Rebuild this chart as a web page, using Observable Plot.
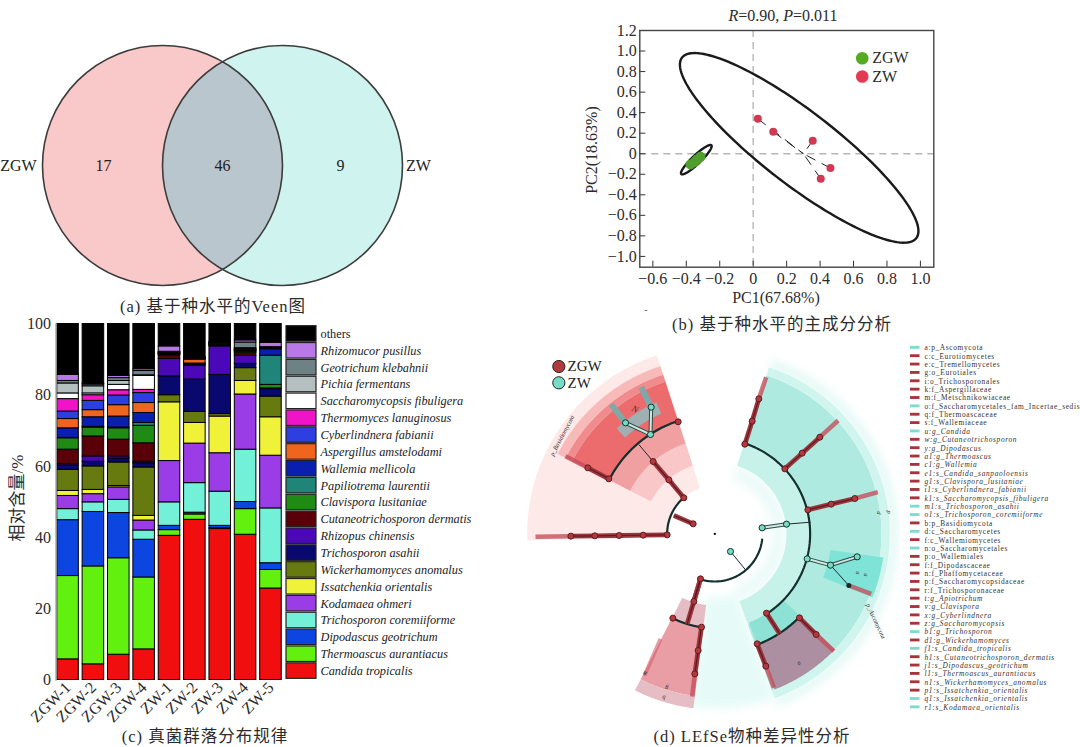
<!DOCTYPE html>
<html lang="zh">
<head>
<meta charset="utf-8">
<script src="https://cdn.jsdelivr.net/npm/d3@7"></script>
<script src="https://cdn.jsdelivr.net/npm/@observablehq/plot@0.6"></script>
<style>
html,body{margin:0;padding:0;background:#fff;}
#page{position:relative;width:1080px;height:747px;overflow:hidden;background:#fff;}
.panel{position:absolute;}
.panel svg{background:transparent!important;display:block;}
.lab{position:absolute;white-space:nowrap;color:#2b2b2b;transform-origin:center;}
</style>
</head>
<body>
<div id="page"></div>
<script>
const SERIF = "'Liberation Serif', serif";
const CJK = "'Liberation Serif','Noto Sans CJK SC',serif";

/* ---------- (a) Venn ---------- */
const vennSets = ["ZGW", "ZW"];
const vennCentresX = [162, 282];
const vennCentreY = 165;
const vennRadius = 120;
const vennCounts = [17, 46, 9];
const vennCountX = [103, 222, 340];
const vennSetLabelX = [18, 418];

/* ---------- (b) PCA ---------- */
const zwPC1 = [0.028, 0.12, 0.356, 0.462, 0.404];
const zwPC2 = [0.34, 0.214, 0.127, -0.14, -0.244];
const zgwPC1 = [-0.375, -0.35, -0.335, -0.315];
const zgwPC2 = [-0.105, -0.08, -0.055, -0.03];
const zwCentroid = [0.30, 0.0];
const pcaTicksX = [-0.6, -0.4, -0.2, 0, 0.2, 0.4, 0.6, 0.8, 1.0];
const pcaTicksY = [-1.0, -0.8, -0.6, -0.4, -0.2, 0, 0.2, 0.4, 0.6, 0.8, 1.0, 1.2];
/* ellipse: centre x, centre y, major vector, minor vector (data units) */
const ellipseZW = [0.275, 0.057, 0.70, -0.88, 0.136, 0.28];
const ellipseZGW = [-0.34, -0.058, 0.09, 0.14, 0.018, -0.03];

/* ---------- (c) community composition ---------- */
const samples = ["ZGW-1", "ZGW-2", "ZGW-3", "ZGW-4", "ZW-1", "ZW-2", "ZW-3", "ZW-4", "ZW-5"];
const candida = [5.8, 4.4, 7.1, 8.6, 40.5, 45.0, 42.4, 40.8, 25.7];
const thermoascus = [23.4, 27.5, 27.1, 20.2, 1.6, 1.5, 0.2, 7.2, 5.2];
const dipodascus = [15.7, 15.3, 12.7, 10.6, 1.2, 0.5, 0.7, 2.0, 1.9];
const coremiiforme = [3.1, 2.7, 3.7, 2.6, 6.6, 8.3, 9.6, 14.7, 15.4];
const kodamaea = [3.7, 2.3, 3.5, 2.8, 11.6, 11.1, 10.8, 15.5, 14.8];
const issatchenkia = [1.4, 1.2, 0.4, 1.3, 16.5, 5.8, 10.3, 3.8, 10.8];
const wickerhamomyces = [5.9, 6.6, 6.6, 13.6, 2.0, 3.1, 0.7, 3.6, 5.8];
const asahii = [1.2, 1.3, 1.1, 1.2, 5.3, 9.1, 11.0, 1.2, 2.1];
const rhizopus = [0.4, 1.5, 0.6, 0.4, 4.9, 3.9, 8.0, 2.3, 0];
const cutaneo = [4.1, 5.6, 4.7, 5.2, 1.0, 0.3, 0.2, 0.7, 0.2];
const clavispora = [3.2, 2.5, 3.2, 4.9, 0.2, 0.1, 0.1, 0.4, 1.0];
const papiliotrema = [0.1, 0.2, 0.2, 0.8, 0.1, 0.1, 0.1, 0.1, 8.2];
const wallemia = [2.7, 2.7, 3.1, 2.8, 0.1, 0.1, 0.1, 0.2, 1.8];
const aspergillus = [2.6, 2.0, 3.2, 2.8, 0.1, 1.1, 0.1, 0.1, 0.1];
const cyberlindnera = [2.1, 2.6, 2.7, 2.8, 0.1, 0.1, 0.1, 0.1, 0.1];
const thermomyces = [3.5, 1.6, 1.5, 0.9, 0.1, 0.1, 0.1, 0.1, 0.1];
const saccharomycopsis = [1.6, 0.5, 1.5, 3.9, 0.1, 0.1, 0.1, 0.2, 0.1];
const pichia = [2.8, 2.0, 1.1, 0.2, 0.1, 0.1, 0.1, 0.2, 0.1];
const geotrichum = [0.7, 0.5, 0.8, 1.2, 0.1, 0.1, 0.1, 1.6, 0.1];
const rhizomucor = [1.7, 0.2, 0.6, 0.5, 1.5, 0.1, 0.2, 0.6, 1.2];
const others = [14.3, 16.8, 14.6, 12.7, 6.3, 9.4, 5.0, 4.6, 5.3];

const speciesNames = ["Candida tropicalis", "Thermoascus aurantiacus", "Dipodascus geotrichum", "Trichosporon coremiiforme", "Kodamaea ohmeri", "Issatchenkia orientalis", "Wickerhamomyces anomalus", "Trichosporon asahii", "Rhizopus chinensis", "Cutaneotrichosporon dermatis", "Clavispora lusitaniae", "Papiliotrema laurentii", "Wallemia mellicola", "Aspergillus amstelodami", "Cyberlindnera fabianii", "Thermomyces lanuginosus", "Saccharomycopsis fibuligera", "Pichia fermentans", "Geotrichum klebahnii", "Rhizomucor pusillus", "others"];
const speciesColors = ["#f00e0e", "#62f00e", "#0c45e0", "#72f0d8", "#9a3de6", "#f0f23a", "#667a10", "#08086e", "#4a08b8", "#5a0008", "#1f8a14", "#1f8578", "#0a1eb0", "#f0651e", "#2d3fe0", "#f014c8", "#ffffff", "#b4bfc0", "#6e8285", "#b878e8", "#000000"];
const speciesSeries = [candida, thermoascus, dipodascus, coremiiforme, kodamaea, issatchenkia, wickerhamomyces, asahii, rhizopus, cutaneo, clavispora, papiliotrema, wallemia, aspergillus, cyberlindnera, thermomyces, saccharomycopsis, pichia, geotrichum, rhizomucor, others];
const percentTicks = [0, 20, 40, 60, 80, 100];

/* ---------- (d) LEfSe cladogram ---------- */
const cladoCentre = [643, 580];
/* nodes: id, x, y, group (Z = ZGW, W = ZW) */
const cladoNodes = [
 ["l0",500,583,"Z"],["l1",428,584,"Z"],["l2",356,585,"Z"],["l3",283,586,"Z"],["l4",211,587,"Z"],
 ["l5",578,550,"Z"],["l6",550,472,"Z"],["l7",505,418,"Z"],["l8",458,363,"Z"],
 ["u0",325,415,"Z"],["u1",262,382,"Z"],["u2",450,282,"W"],["u3",533,244,"Z"],["u4",375,247,"W"],["u5",452,200,"W"],
 ["r0",733,311,"Z"],["r1",755,242,"Z"],["r2",775,175,"Z"],
 ["r3",853,385,"Z"],["r4",905,338,"Z"],["r5",958,290,"Z"],
 ["r6",922,508,"Z"],["r7",992,491,"Z"],["r8",1063,474,"Z"],
 ["c0",785,562,"W"],["c1",858,551,"W"],
 ["r9",920,655,"W"],["r10",990,674,"W"],["r11",1070,649,"W"],
 ["s0",798,818,"Z"],["s1",770,910,"Z"],["s2",796,977,"Z"],["s3",897,832,"Z"],["s4",947,882,"Z"],
 ["m0",690,633,"W"],["b0",600,715,"Z"],["b1",580,783,"Z"],["b2",517,833,"Z"],["b3",603,860,"Z"],["b4",593,930,"Z"],["b5",583,1000,"Z"]
];
const thickBranches = [
 ["l0","l1"],["l1","l2"],["l2","l3"],["l3","l4"],["l6","l7"],["l7","l8"],["u0","u1"],
 ["r0","r1"],["r1","r2"],["r3","r4"],["r4","r5"],["r6","r7"],["r7","r8"],
 ["s1","s2"],["s3","s4"],["b0","b1"],["b3","b4"],["b4","b5"]
];
const doubleBranches = [["c0","c1"],["r9","r10"],["r10","r11"],["u2","u4"],["u2","u5"]];
/* free branch ends: x1,y1,x2,y2 */
const outerBars = [[211,587,105,589],[262,382,195,347],[775,175,797,110],[958,290,1013,240],[1063,474,1132,455],[1045,735,1112,760],[796,977,820,1042],[947,882,1000,932],[583,1000,575,1068]];
const sideBars = [[480,895,432,1005]];
const stemBranches = [[578,550,520,525],[798,818,838,880],[580,783,560,850]];
const thinBranches = [[858,551,930,545],[990,674,1045,735],[735,688,690,633],[458,363,415,312]];
/* arcs: radius, start angle, end angle (degrees clockwise from north) */
const cladoArcs = [[286,18.5,147],[356,-62.6,-18],[143,97,197.6],[283,187.5,206],[356,134,159],[143,-89,-41]];
/* sectors: inner radius, outer radius, start angle, end angle, tone */
const sectors = [
 [143,563,-92,-18,"pink0"],[215,530,-63,-18,"pink1"],[215,285,-63,-18,"pink2"],[285,355,-63,-18,"pink3"],
 [355,480,-63,-18,"pink4"],[480,502,-63,-18,"pink5"],[502,528,-63,-18,"pink6"],
 [215,290,18,160,"teal1"],[290,500,18,160,"teal2"],[500,525,18,160,"teal3"],
 [215,285,187,207,"rose0"],[285,490,187,207,"rose1"],[490,527,187,207,"rose0"],
 [285,356,134,159,"teal4"],[356,500,134,159,"mauve"],[350,510,98,112,"teal5"],
 [395,432,-43,-24,"steel"]
];
const glowSectors = [[170,215,18,160,"mint2"],[525,548,18,160,"mint1"],[190,525,160,188,"mint0"]];
const tones = {pink0:"#fee9e9",pink1:"#fbd3d3",pink2:"#f9c7c7",pink3:"#f0a0a0",pink4:"#ec6c6e",pink5:"#f08c8d",pink6:"#f8b9b9",rose0:"#e6bcc5",rose1:"#e99da4",mint0:"#e6fbf7",mint1:"#dff8f3",mint2:"#ecfbf8",teal1:"#c6f2ea",teal2:"#aeeae0",teal3:"#cff5ee",teal4:"#8ee2d5",teal5:"#80e3d7",mauve:"#ac8fa0",steel:"#9fb0b2"};
const steelBars = [[375,247,332,192],[452,200,422,140]];
const cladoTags = [
 ["p_Basidiomycota",185,285,-62],["p_Ascomycota",1126,842,65],["N",403,206,25],["a",1097,703,90],["a",1073,697,90],
 ["p",1165,515,90],["d",1136,517,90],["a",897,970,150],["g",498,1043,188],["b",490,1071,188],["h",433,998,205]
];

const lefseLabels = ["a:p_Ascomycota","c:c_Eurotiomycetes","e:c_Tremellomycetes","g:o_Eurotiales","i:o_Trichosporonales","k:f_Aspergillaceae","m:f_Metschnikowiaceae","o:f_Saccharomycetales_fam_Incertae_sedis","q:f_Thermoascaceae","s:f_Wallemiaceae","u:g_Candida","w:g_Cutaneotrichosporon","y:g_Dipodascus","a1:g_Thermoascus","c1:g_Wallemia","e1:s_Candida_sanpaoloensis","g1:s_Clavispora_lusitaniae","i1:s_Cyberlindnera_fabianii","k1:s_Saccharomycopsis_fibuligera","m1:s_Trichosporon_asahii","o1:s_Trichosporon_coremiiforme","b:p_Basidiomycota","d:c_Saccharomycetes","f:c_Wallemiomycetes","n:o_Saccharomycetales","p:o_Wallemiales","f:f_Dipodascaceae","n:f_Phaffomycetaceae","p:f_Saccharomycopsidaceae","r:f_Trichosporonaceae","t:g_Apiotrichum","v:g_Clavispora","x:g_Cyberlindnera","z:g_Saccharomycopsis","b1:g_Trichosporon","d1:g_Wickerhamomyces","f1:s_Candida_tropicalis","h1:s_Cutaneotrichosporon_dermatis","j1:s_Dipodascus_geotrichum","l1:s_Thermoascus_aurantiacus","n1:s_Wickerhamomyces_anomalus","p1:s_Issatchenkia_orientalis","q1:s_Issatchenkia_orientalis","r1:s_Kodamaea_orientalis"];
const lefseGroups = "WZZZZZZWZZWZZZZZZZZWWZWZWZZZZZZZZZWZWZZZZZWW".split("");
const groupColors = {Z:"#a5343c", W:"#7ddccd"};
const groupNodeColors = {Z:"#b23a3e", W:"#76dcc3"};

/* ---------- page helpers ---------- */
const page = document.getElementById("page");
function place(plot, left, top){
  const d = document.createElement("div");
  d.className = "panel"; d.style.left = left+"px"; d.style.top = top+"px";
  d.appendChild(plot); page.appendChild(d);
}
function label(html, cx, cy, size, opts={}){
  const d = document.createElement("div");
  d.className = "lab"; d.innerHTML = html;
  d.style.left = cx+"px"; d.style.top = cy+"px";
  d.style.fontSize = size+"px"; d.style.fontFamily = opts.font || CJK;
  d.style.transform = `translate(-50%,-50%) rotate(${opts.rotate||0}deg)`;
  if(opts.spacing) d.style.letterSpacing = opts.spacing;
  page.appendChild(d);
}
const fmt = d => d === 0 ? "0" : d.toFixed(1).replace("-", "\u2212");

/* ---------- (a) ---------- */
const lens = (() => {
  const half = (vennCentresX[1]-vennCentresX[0])/2;
  const t0 = Math.acos(half/vennRadius);
  const pts = [];
  for (const t of d3.range(-t0, t0+1e-9, t0/40)) pts.push({x:vennCentresX[0]+vennRadius*Math.cos(t), y:vennCentreY+vennRadius*Math.sin(t)});
  for (const t of d3.range(-t0, t0+1e-9, t0/40)) pts.push({x:vennCentresX[1]-vennRadius*Math.cos(t), y:vennCentreY-vennRadius*Math.sin(t)});
  return pts;
})();
place(Plot.plot({
  width:440,height:300,margin:0,
  x:{domain:[0,440],range:[0,440],axis:null},
  y:{domain:[0,300],range:[0,300],axis:null},
  style:{fontFamily:SERIF,fontSize:"16px",background:"transparent"},
  marks:[
    Plot.dot([0],{x:()=>vennCentresX[0],y:()=>vennCentreY,r:vennRadius,fill:"#f9c9c9",stroke:"none"}),
    Plot.dot([1],{x:()=>vennCentresX[1],y:()=>vennCentreY,r:vennRadius,fill:"#cff3ee",stroke:"none"}),
    Plot.line(lens,{x:"x",y:"y",fill:"#b9c6cd",stroke:"none",curve:"linear-closed"}),
    Plot.dot(vennCentresX,{x:d=>d,y:()=>vennCentreY,r:vennRadius,fill:"none",stroke:"#3c3c3c",strokeWidth:1.6}),
    Plot.text(vennCounts,{x:(d,i)=>vennCountX[i],y:()=>vennCentreY,text:d=>String(d),fill:"#222"}),
    Plot.text(vennSets,{x:(d,i)=>vennSetLabelX[i],y:()=>vennCentreY,text:d=>d,fill:"#222"})
  ]
}),0,0);
label("(a) 基于种水平的Veen图",213,305,16.5,{spacing:"1px"});

/* ---------- (b) ---------- */
const ellipse = ([cx,cy,ax,ay,bx,by]) => d3.range(0,2*Math.PI,Math.PI/90).map(t=>({x:cx+ax*Math.cos(t)+bx*Math.sin(t),y:cy+ay*Math.cos(t)+by*Math.sin(t)}));
const zw = zwPC1.map((x,i)=>({x,y:zwPC2[i]}));
const zgw = zgwPC1.map((x,i)=>({x,y:zgwPC2[i]}));
place(Plot.plot({
  width:400,height:310,marginLeft:54.3,marginRight:51.7,marginTop:30,marginBottom:43.3,
  x:{domain:[-0.678,1.08],ticks:pcaTicksX},
  y:{domain:[-1.105,1.2],ticks:pcaTicksY},
  style:{fontFamily:SERIF,fontSize:"16px",background:"transparent",color:"#2b2b2b"},
  marks:[
    Plot.ruleX([0],{stroke:"#b5b5b5",strokeWidth:1.4,strokeDasharray:"7,5"}),
    Plot.ruleY([0],{stroke:"#b5b5b5",strokeWidth:1.4,strokeDasharray:"7,5"}),
    Plot.line(ellipse(ellipseZW),{x:"x",y:"y",stroke:"#1a1a1a",strokeWidth:2.4,curve:"linear-closed"}),
    Plot.line(ellipse(ellipseZGW),{x:"x",y:"y",stroke:"#1a1a1a",strokeWidth:2.4,curve:"linear-closed"}),
    Plot.dot(zgw,{x:"x",y:"y",r:5,fill:"#4f9f2c"}),
    Plot.link(zw,{x1:"x",y1:"y",x2:()=>zwCentroid[0],y2:()=>zwCentroid[1],stroke:"#222",strokeWidth:1,strokeDasharray:"10,7"}),
    Plot.dot(zw,{x:"x",y:"y",r:4,fill:"#cf3a52"}),
    Plot.dot([0],{x:()=>0.652,y:()=>0.93,r:6.3,fill:"#56ab22"}),
    Plot.dot([1],{x:()=>0.652,y:()=>0.752,r:6.3,fill:"#e23b52"}),
    Plot.text(["ZGW"],{x:()=>0.712,y:()=>0.93,text:d=>d,textAnchor:"start",fontSize:16}),
    Plot.text(["ZW"],{x:()=>0.712,y:()=>0.752,text:d=>d,textAnchor:"start",fontSize:16}),
    Plot.axisX(pcaTicksX,{tickFormat:fmt,tickSize:-6,tickPadding:11,label:null,stroke:"#333"}),
    Plot.axisY(pcaTicksY,{tickFormat:fmt,tickSize:-6,tickPadding:9,label:null,stroke:"#333"}),
    Plot.frame({stroke:"#444",strokeWidth:1.4})
  ]
}),585,0);
label("<i>R</i>=0.90, <i>P</i>=0.011",783,16,16);
label("PC1(67.68%)",776,298,16);
label("PC2(18.63%)",592,150,16,{rotate:-90});
label("-",646,310,9);
label("(b) 基于种水平的主成分分析",782,323,16.5,{spacing:"1px"});

/* ---------- (c) ---------- */
const rows = samples.flatMap((sample,i)=>speciesNames.map((species,k)=>({sample,species,value:speciesSeries[k][i]})));
place(Plot.plot({
  width:290,height:425,marginLeft:55.5,marginRight:7.5,marginTop:8.5,marginBottom:60.5,
  x:{domain:samples,paddingInner:0.15,paddingOuter:0.05,round:false},
  y:{domain:[0,100],ticks:percentTicks},
  color:{domain:speciesNames,range:speciesColors},
  style:{fontFamily:SERIF,fontSize:"16px",background:"transparent",color:"#2b2b2b"},
  marks:[
    Plot.barY(rows,{x:"sample",y:"value",fill:"species",stroke:"#000",strokeWidth:1,order:speciesNames}),
    Plot.frame({anchor:"left",stroke:"#aaa",strokeWidth:1.5}),
    Plot.axisY(percentTicks,{tickSize:0,tickPadding:5,label:null}),
    Plot.axisX(samples,{tickSize:0,tickPadding:5,tickRotate:-45,label:null})
  ]
}),0,315);
label("相对含量/%",15,498,17,{rotate:-90});
label("(c) 真菌群落分布规律",205,735,16.5,{spacing:"1px"});

/* legend of (c) */
const legendOrder = speciesNames.slice().reverse();
const isRoman = d => d === "others";
place(Plot.plot({
  width:220,height:370,margin:0,
  x:{type:"band",domain:["swatch"],range:[6,36],padding:0,round:false,axis:null},
  y:{type:"band",domain:legendOrder,range:[10,364],paddingInner:0.08,paddingOuter:0.04,round:false,axis:null},
  color:{domain:speciesNames,range:speciesColors},
  style:{fontFamily:SERIF,fontSize:"12.3px",background:"transparent",color:"#222"},
  marks:[
    Plot.cell(legendOrder,{x:()=>"swatch",y:d=>d,fill:d=>d,stroke:"#222",strokeWidth:1.2}),
    Plot.text(legendOrder.filter(isRoman),{x:()=>"swatch",y:d=>d,text:d=>d,textAnchor:"start",dx:19}),
    Plot.text(legendOrder.filter(d=>!isRoman(d)),{x:()=>"swatch",y:d=>d,text:d=>d,textAnchor:"start",dx:19,fontStyle:"italic"})
  ]
}),280,315);

/* ---------- (d) ---------- */
const rad = a => a*Math.PI/180;
const polar = (r,a)=>({x:cladoCentre[0]+r*Math.sin(rad(a)),y:cladoCentre[1]-r*Math.cos(rad(a))});
const arcPts = (r,a1,a2)=>d3.range(0,61).map(i=>polar(r,a1+(a2-a1)*i/60));
const sectorPts = ([r1,r2,a1,a2])=>[...arcPts(r2,a1,a2),...arcPts(r1,a2,a1)];
const sectorMark = (s,extra={})=>Plot.line(sectorPts(s),{x:"x",y:"y",fill:tones[s[4]],stroke:"none",curve:"linear-closed",...extra});
const nodeBy = new Map(cladoNodes.map(d=>[d[0],d]));
const seg = pairs => pairs.map(([a,b])=>({x1:nodeBy.get(a)[1],y1:nodeBy.get(a)[2],x2:nodeBy.get(b)[1],y2:nodeBy.get(b)[2]}));
const raw = arr => arr.map(([x1,y1,x2,y2])=>({x1,y1,x2,y2}));
const link = (data,stroke,w,extra={})=>Plot.link(data,{x1:"x1",y1:"y1",x2:"x2",y2:"y2",stroke,strokeWidth:w,curve:"linear",...extra});
const thickAll = [...seg(thickBranches),...raw(stemBranches),...raw([[600,715,580,783]])];
place(Plot.plot({
  width:400,height:380,margin:0,
  x:{domain:[0,1200],range:[0,400],axis:null},
  y:{domain:[0,1140],range:[0,380],axis:null},
  style:{fontFamily:SERIF,background:"transparent"},
  marks:[
    ...glowSectors.map(s=>sectorMark(s,{imageFilter:"blur(4px)"})),
    ...sectors.map(s=>sectorMark(s,{imageFilter:"blur(0.6px)"})),
    link(raw(steelBars),"#7fa8a8",6),
    link(raw(outerBars),"#c64f5b",4.5,{strokeOpacity:0.8}),
    link(raw(sideBars),"#d2606a",4,{strokeOpacity:0.6}),
    link(raw(thinBranches),"#1f2a2a",1),
    ...cladoArcs.map(([r,a1,a2])=>Plot.line(arcPts(r,a1,a2),{x:"x",y:"y",stroke:"#14302c",strokeWidth:2.2})),
    link(thickAll,"#9c363e",4.8),
    link(thickAll,"#5f1a20",1.2),
    link(seg(doubleBranches),"#2b4d49",4),
    link(seg(doubleBranches),"#cfe8df",2),
    Plot.dot([[1045,735]],{x:d=>d[0],y:d=>d[1],r:2.5,fill:"#1a2a2a"}),
    Plot.dot([cladoCentre],{x:d=>d[0],y:d=>d[1],r:1.2,fill:"#111"}),
    Plot.dot(cladoNodes,{x:d=>d[1],y:d=>d[2],r:d=>d[3]==="Z"?3.8:4,fill:d=>groupNodeColors[d[3]],stroke:d=>d[3]==="Z"?"#5f1a20":"#14302c",strokeWidth:1,symbol:"circle"}),
    ...cladoTags.map(t=>Plot.text([t],{x:d=>d[1],y:d=>d[2],text:d=>d[0],rotate:t[3],fontSize:t[0]==="N"?9:6.5,fill:"#333",fontStyle:"italic"})),
    Plot.dot(["ZGW","ZW"],{x:()=>175,y:(d,i)=>i?127:78,r:6.1,fill:d=>d==="ZGW"?"#b23a3e":"#76dcc3",stroke:"#222",strokeWidth:1,symbol:"circle"}),
    Plot.text(["ZGW","ZW"],{x:()=>201,y:(d,i)=>i?127:78,text:d=>d,textAnchor:"start",fontSize:15,fill:"#222"})
  ]
}),500,340);
label("(d) LEfSe物种差异性分析",752,735,16.5,{spacing:"1px"});

/* legend of (d) */
const lefseRows = lefseLabels.map((name,i)=>({key:i,name,group:lefseGroups[i]}));
const isItalic = d => /:[gs]_/.test(d.name);
place(Plot.plot({
  width:175,height:376,margin:0,
  x:{type:"band",domain:["bar"],range:[5,14.5],padding:0,round:false,axis:null},
  y:{type:"band",domain:d3.range(lefseLabels.length),range:[4.5,369.7],paddingInner:0.66,paddingOuter:0.17,round:false,axis:null},
  style:{fontFamily:SERIF,fontSize:"7.4px",background:"transparent",color:"#333",letterSpacing:"0.65px"},
  marks:[
    Plot.cell(lefseRows,{x:()=>"bar",y:"key",fill:d=>groupColors[d.group]}),
    Plot.text(lefseRows.filter(d=>!isItalic(d)),{x:()=>"bar",y:"key",text:"name",textAnchor:"start",dx:9.25}),
    Plot.text(lefseRows.filter(isItalic),{x:()=>"bar",y:"key",text:"name",textAnchor:"start",dx:9.25,fontStyle:"italic"})
  ]
}),905,340);
</script>
</body>
</html>
